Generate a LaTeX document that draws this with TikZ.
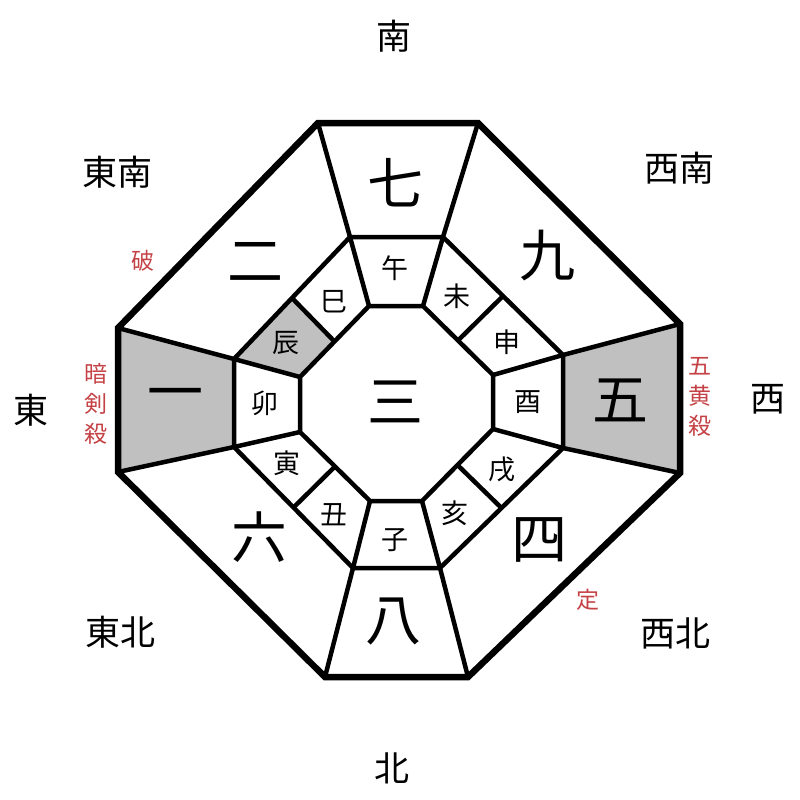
\documentclass[tikz,border=0pt]{standalone}
\usepackage{fontspec}
\setmainfont{Noto Sans CJK JP}
\usetikzlibrary{calc}
\definecolor{cellgray}{RGB}{192,192,192}
\definecolor{warnred}{RGB}{196,66,70}

\begin{document}
\begin{tikzpicture}[x=1pt, y=-1pt,
    rim/.style={line width=6.5pt, line join=miter},
    wall/.style={line width=4.5pt, line join=miter},
    dirlabel/.style={inner sep=0pt, font=\fontsize{35}{35}\selectfont},
    starlabel/.style={inner sep=0pt, font=\fontsize{56}{56}\selectfont},
    branchlabel/.style={inner sep=0pt, font=\fontsize{27}{27}\selectfont},
    warnlabel/.style={inner sep=0pt, text=warnred, align=center, font=\fontsize{23}{30}\selectfont}]
    \useasboundingbox (0,0) rectangle (800,800);
    % outer ring, middle ring, centre
    \foreach \k/\p in {1/{318,123}, 2/{478,123}, 3/{680,324}, 4/{680,473},
                       5/{468,677}, 6/{325,677}, 7/{118,472}, 8/{118,328}}
      \coordinate (o\k) at (\p);
    \foreach \k/\p in {1/{350,237}, 2/{443,237}, 3/{563,355}, 4/{563,448},
                       5/{440,568}, 6/{353,568}, 7/{234,447}, 8/{234,359}}
      \coordinate (m\k) at (\p);
    \foreach \k/\p in {1/{369,306}, 2/{423,306}, 3/{493,375}, 4/{493,429},
                       5/{422,501}, 6/{370,501}, 7/{300,432}, 8/{300,377}}
      \coordinate (i\k) at (\p);
    \foreach \a/\b in {8/1, 2/3, 4/5, 6/7} {
      \coordinate (mh\a) at ($(m\a)!0.5!(m\b)$);
      \coordinate (ih\a) at ($(i\a)!0.5!(i\b)$);
    }

    \fill [cellgray] (o8) -- (m8) -- (m7) -- (o7) -- cycle;
    \fill [cellgray] (o3) -- (o4) -- (m4) -- (m3) -- cycle;
    \fill [cellgray] (mh8) -- (ih8) -- (i8) -- (m8) -- cycle;

    \draw [wall] (m1) -- (m2) -- (m3) -- (m4) -- (m5) -- (m6) -- (m7) -- (m8) -- cycle;
    \draw [wall] (i1) -- (i2) -- (i3) -- (i4) -- (i5) -- (i6) -- (i7) -- (i8) -- cycle;
    \foreach \k in {1,...,8}
      \draw [wall] (o\k) -- (m\k) -- (i\k);
    \foreach \a in {8,2,4,6}
      \draw [wall] (mh\a) -- (ih\a);
    \draw [rim] (o1) -- (o2) -- (o3) -- (o4) -- (o5) -- (o6) -- (o7) -- (o8) -- cycle;

    % directions
    \node [dirlabel] (south) at (394,36) {南};
    \node [dirlabel] (southeast) at (117,172) {東南};
    \node [dirlabel] (southwest) at (679,168) {西南};
    \node [dirlabel] (east) at (31,410) {東};
    \node [dirlabel] (west) at (768,399) {西};
    \node [dirlabel] (northeast) at (120,632) {東北};
    \node [dirlabel] (northwest) at (675,633) {西北};
    \node [dirlabel] (north) at (392,768) {北};

    % stars
    \node [starlabel] (seven) at (395,183) {七};
    \node [starlabel] (two) at (255,262) {二};
    \node [starlabel] (nine) at (547,256) {九};
    \node [starlabel] (one) at (175,400) {一};
    \node [starlabel] (three) at (395,402) {三};
    \node [starlabel] (five) at (620,400) {五};
    \node [starlabel] (six) at (259,537) {六};
    \node [starlabel] (four) at (539,540) {四};
    \node [starlabel] (eight) at (393,622) {八};

    % branches
    \node [branchlabel] (uma) at (395,268) {午};
    \node [branchlabel] (hitsuji) at (457,296) {未};
    \node [branchlabel] (saru) at (507,342) {申};
    \node [branchlabel] (tori) at (528,402) {酉};
    \node [branchlabel] (inu) at (502,469) {戌};
    \node [branchlabel] (i) at (455,513) {亥};
    \node [branchlabel] (ne) at (395,540) {子};
    \node [branchlabel] (ushi) at (334,515) {丑};
    \node [branchlabel] (tora) at (287,463) {寅};
    \node [branchlabel] (u) at (265,403) {卯};
    \node [branchlabel] (tatsu) at (286,343) {辰};
    \node [branchlabel] (mi) at (334,302) {巳};

    % marks
    \node [warnlabel] (ha) at (143,261) {破};
    \node [warnlabel] (ankensatsu) at (96,404) {暗\\剣\\殺};
    \node [warnlabel] (gooosatsu) at (700,397) {五\\黄\\殺};
    \node [warnlabel] (jo) at (588,600) {定};
\end{tikzpicture}
\end{document}
